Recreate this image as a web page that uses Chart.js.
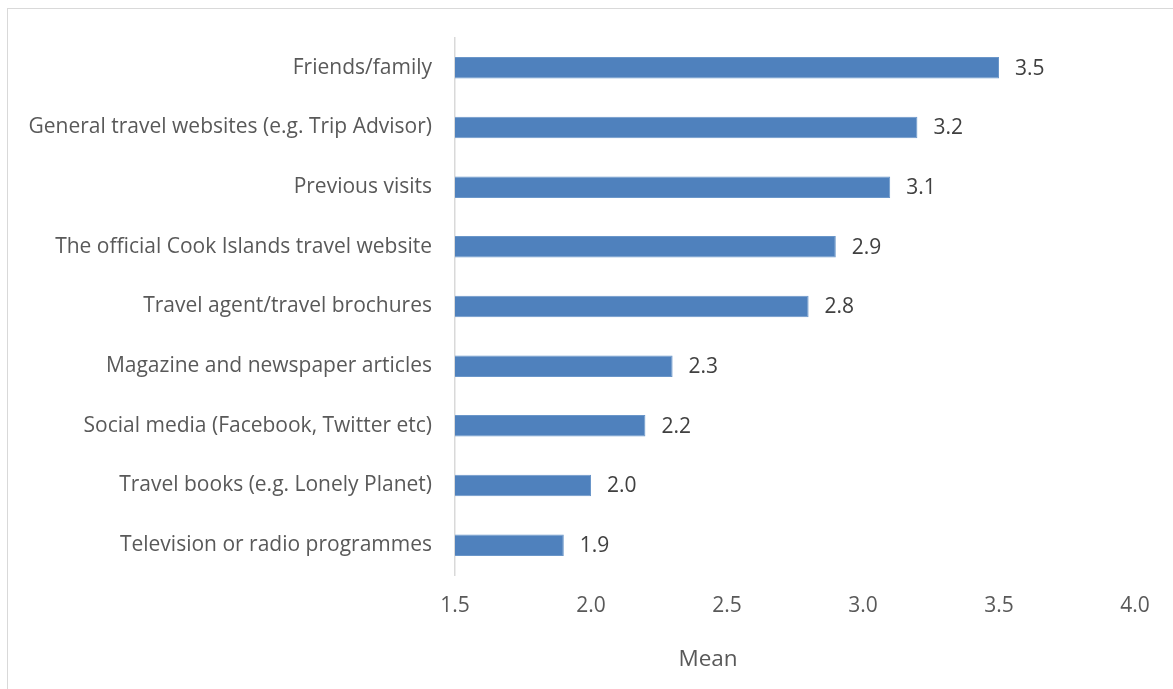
<!DOCTYPE html>
<html>
<head>
<meta charset="utf-8">
<script src="https://cdn.jsdelivr.net/npm/chart.js@4"></script>
<style>
  html, body { margin: 0; padding: 0; background: #fff; }
  #wrap { position: relative; width: 1173px; height: 689px; overflow: hidden; }
  #frame { position: absolute; left: 7px; top: 8px; width: 1200px; height: 720px; border: 1.5px solid #d9d9d9; box-sizing: border-box; }
  canvas { position: absolute; left: 0; top: 0; }
</style>
</head>
<body>
<div id="wrap">
  <div id="frame"></div>
  <canvas id="c" width="1173" height="689"></canvas>
</div>
<script>
const categories = [
  "Friends/family",
  "General travel websites (e.g. Trip Advisor)",
  "Previous visits",
  "The official Cook Islands travel website",
  "Travel agent/travel brochures",
  "Magazine and newspaper articles",
  "Social media (Facebook, Twitter etc)",
  "Travel books (e.g. Lonely Planet)",
  "Television or radio programmes"
];
const meanValues = [3.5, 3.2, 3.1, 2.9, 2.8, 2.3, 2.2, 2.0, 1.9];
const xTickValues = [1.5, 2.0, 2.5, 3.0, 3.5, 4.0];
const axisTitle = "Mean";

const FONT = "'Open Sans', sans-serif";

const valueLabels = {
  id: 'valueLabels',
  afterDatasetsDraw(chart) {
    const ctx = chart.ctx;
    const meta = chart.getDatasetMeta(0);
    ctx.save();
    ctx.font = "21px " + FONT;
    ctx.fillStyle = "#404040";
    ctx.textAlign = "left";
    ctx.textBaseline = "middle";
    meta.data.forEach((bar, i) => {
      ctx.fillText(meanValues[i].toFixed(1), bar.x + 16, bar.y + 1);
    });
    ctx.restore();
  }
};

const titlePlugin = {
  id: 'axisTitle',
  afterDraw(chart) {
    const ctx = chart.ctx;
    ctx.save();
    ctx.font = "22.5px " + FONT;
    ctx.fillStyle = "#595959";
    ctx.textAlign = "center";
    ctx.textBaseline = "middle";
    ctx.fillText(axisTitle, 708, 660);
    ctx.restore();
  }
};

new Chart(document.getElementById('c'), {
  type: 'bar',
  data: {
    labels: categories,
    datasets: [{
      data: meanValues,
      backgroundColor: '#4f81bd',
      borderColor: '#6a96c9',
      borderWidth: 1,
      categoryPercentage: 1.0,
      barPercentage: 0.36
    }]
  },
  options: {
    indexAxis: 'y',
    responsive: false,
    animation: false,
    layout: { padding: { top: 38, right: 38, left: 0, bottom: 0 } },
    plugins: { legend: { display: false }, tooltip: { enabled: false } },
    scales: {
      x: {
        min: 1.5, max: 4.0,
        afterBuildTicks(scale) { scale.ticks = xTickValues.map(v => ({ value: v })); },
        afterFit(scale) { scale.height = 114; },
        grid: { display: false, drawTicks: false },
        border: { display: false },
        ticks: {
          padding: 18,
          color: '#595959',
          font: { family: FONT, size: 21 },
          callback: (v) => Number(v).toFixed(1)
        }
      },
      y: {
        afterFit(scale) { scale.width = 455; },
        grid: { display: false, drawTicks: false },
        border: { display: true, color: '#d9d9d9', width: 1.5 },
        ticks: {
          padding: 23,
          color: '#595959',
          font: { family: FONT, size: 21 }
        }
      }
    }
  },
  plugins: [valueLabels, titlePlugin]
});
</script>
</body>
</html>
